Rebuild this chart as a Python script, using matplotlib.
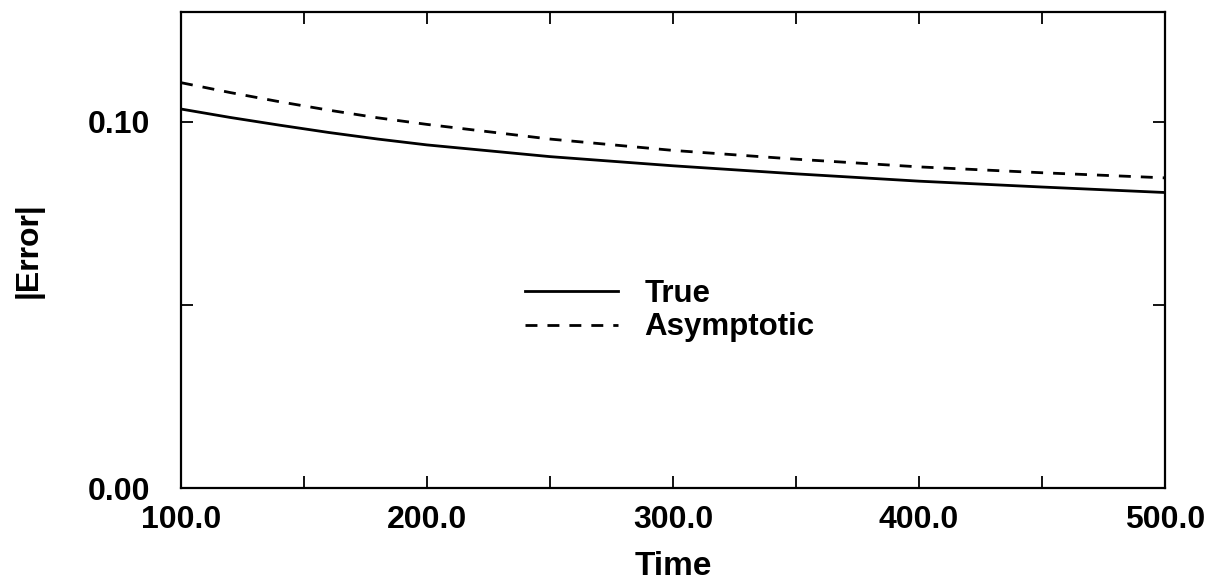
import matplotlib
matplotlib.use("Agg")
import matplotlib.pyplot as plt
from matplotlib.ticker import MultipleLocator, FormatStrFormatter

plt.rcParams['font.family'] = ['Liberation Sans', 'DejaVu Sans']
plt.rcParams['font.weight'] = 'bold'
plt.rcParams['axes.labelweight'] = 'bold'

# valores
tiempo = [100, 120, 140, 160, 180, 200, 250, 300, 350, 400, 450, 500]
error_real = [0.1035, 0.1012, 0.0991, 0.0971, 0.0953, 0.0937, 0.0905, 0.0880,
              0.0858, 0.0838, 0.0822, 0.0807]
error_asint = [0.1107, 0.1080, 0.1055, 0.1032, 0.1011, 0.0993, 0.0953, 0.0922,
               0.0898, 0.0877, 0.0861, 0.0847]

fig = plt.figure(figsize=(12.22, 5.88), dpi=100)
ax = fig.add_axes([181 / 1222, 100 / 588, 984 / 1222, 476 / 588])

ax.plot(tiempo, error_real, color='black', linewidth=2.0, label='True')
ax.plot(tiempo, error_asint, color='black', linewidth=2.0,
        linestyle=(0, (4.3, 3.6)), label='Asymptotic')

ax.set_xlim(100, 500)
ax.set_ylim(0, 0.13)
ax.xaxis.set_major_locator(MultipleLocator(100))
ax.xaxis.set_minor_locator(MultipleLocator(50))
ax.yaxis.set_major_locator(MultipleLocator(0.10))
ax.yaxis.set_minor_locator(MultipleLocator(0.05))
ax.xaxis.set_major_formatter(FormatStrFormatter('%.1f'))
ax.yaxis.set_major_formatter(FormatStrFormatter('%.2f'))

ax.tick_params(which='both', direction='in', top=True, right=True,
               length=8.5, width=1.3)
ax.tick_params(axis='x', which='major', labelsize=23, pad=12)
ax.tick_params(axis='y', which='major', labelsize=23, pad=22)
for s in ax.spines.values():
    s.set_linewidth(1.6)

ax.set_xlabel('Time', fontsize=24, labelpad=12)
ax.set_ylabel('|Error|', fontsize=23, labelpad=32)

ax.legend(loc='center left', bbox_to_anchor=(0.35, 0.372), frameon=False,
          fontsize=22.5, handlelength=2.95, handletextpad=0.85,
          labelspacing=0.1, borderpad=0, borderaxespad=0)

fig.savefig('out.png', dpi=100)
